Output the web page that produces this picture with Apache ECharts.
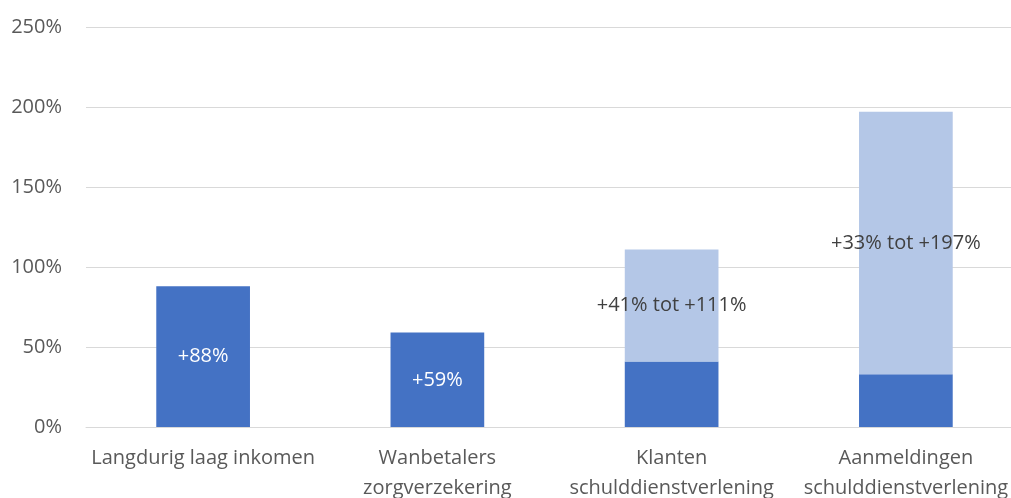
<!DOCTYPE html>
<html><head><meta charset="utf-8">
<script src="https://cdn.jsdelivr.net/npm/echarts@6/dist/echarts.min.js"></script>
<style>html,body{margin:0;padding:0;background:#fff;overflow:hidden}#c{width:1011px;height:498px}</style>
</head><body><div id="c"></div>
<script>
var categories = ['Langdurig laag inkomen', 'Wanbetalers\nzorgverzekering', 'Klanten\nschulddienstverlening', 'Aanmeldingen\nschulddienstverlening'];
var baseValues = [88, 59, 41, 33];
var rangeValues = [0, 0, 70, 164];
var baseLabels = ['+88%', '+59%', '', ''];
var rangeLabels = ['', '', '+41% tot +111%', '+33% tot +197%'];
var yTicks = [0, 50, 100, 150, 200, 250];

var font = 'Open Sans';
var chart = echarts.init(document.getElementById('c'), null, {renderer: 'canvas', width: 1011, height: 498});
chart.setOption({
  animation: false,
  backgroundColor: '#fff',
  textStyle: {fontFamily: font},
  grid: {left: 86, top: 27, width: 937, height: 400, containLabel: false, outerBoundsMode: 'none'},
  xAxis: {
    type: 'category', data: categories,
    axisLine: {show: true, lineStyle: {color: '#d9d9d9', width: 1}},
    axisTick: {show: false},
    axisLabel: {color: '#595959', fontSize: 20, fontFamily: font, lineHeight: 30, margin: 16, interval: 0, hideOverlap: false}
  },
  yAxis: {
    type: 'value', min: yTicks[0], max: yTicks[yTicks.length - 1], interval: 50,
    axisLine: {show: false}, axisTick: {show: false},
    splitLine: {lineStyle: {color: '#d9d9d9', width: 1}},
    axisLabel: {color: '#595959', fontSize: 20, fontFamily: font, margin: 24, formatter: '{value}%'}
  },
  series: [
    {
      type: 'bar', stack: 'a', barWidth: '40%',
      itemStyle: {color: '#4472C4'},
      data: baseValues.map(function (v, i) { return {value: v, label: {show: !!baseLabels[i], formatter: baseLabels[i]}}; }),
      label: {position: 'inside', color: '#fff', fontSize: 20, fontFamily: font}
    },
    {
      type: 'bar', stack: 'a', barWidth: '40%',
      itemStyle: {color: '#B4C7E7'},
      data: rangeValues.map(function (v, i) { return {value: v, label: {show: !!rangeLabels[i], formatter: rangeLabels[i]}}; }),
      label: {position: 'inside', color: '#404040', fontSize: 20, fontFamily: font}
    }
  ]
});
</script></body></html>
